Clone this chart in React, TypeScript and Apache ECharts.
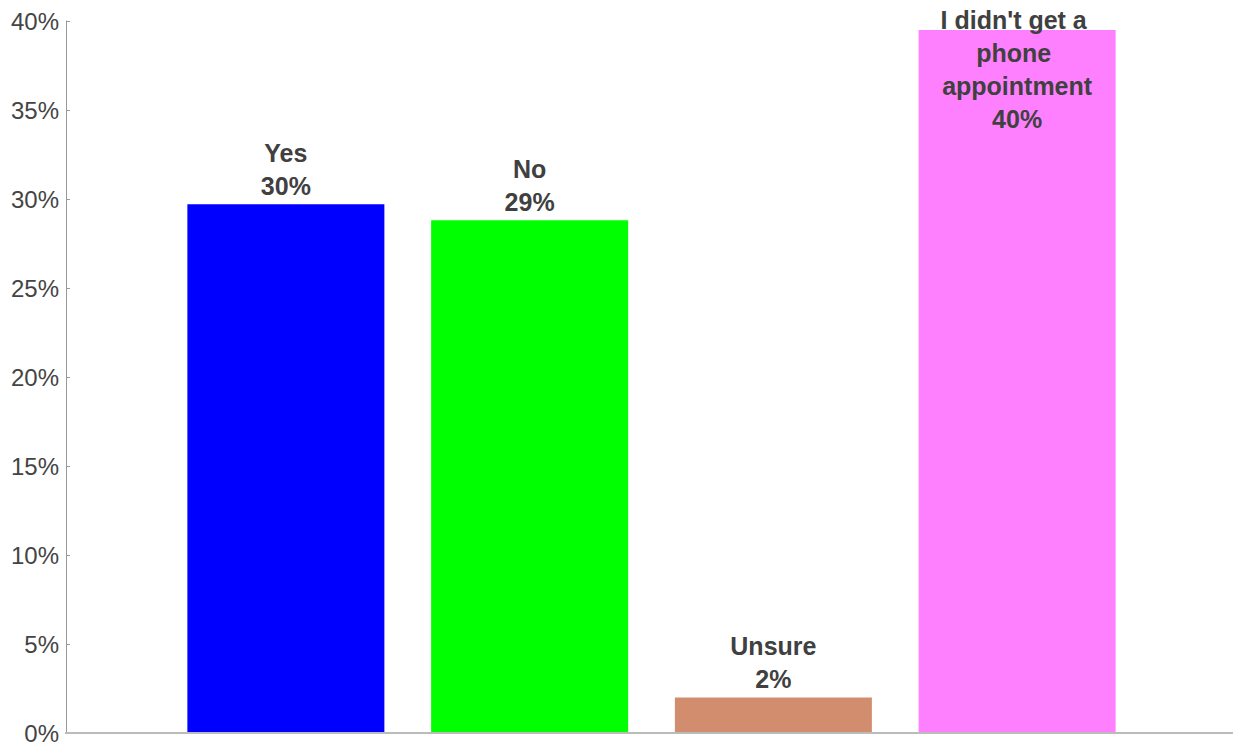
import React, { useEffect, useRef } from "react";
import * as echarts from "echarts";

const categories = ["Yes", "No", "Unsure", "I didn't get a phone appointment"];
const values = [29.7, 28.8, 2.0, 39.5];
const colors = ["#0000ff", "#00ff00", "#d18d6e", "#ff80ff"];
const yTicks = [0, 5, 10, 15, 20, 25, 30, 35, 40];

export default function App() {
  const ref = useRef<HTMLDivElement>(null);
  useEffect(() => {
    document.body.style.margin = "0";
    const chart = echarts.init(ref.current!, null, { renderer: "svg" });
    const labelBase = {
      show: true,
      fontFamily: "Liberation Sans, Arial, sans-serif",
      fontWeight: "bold",
      fontSize: 25,
      lineHeight: 33,
      color: "#404040",
      width: 200,
      overflow: "break",
      formatter: (p: any) => `${p.name}\n${Math.round(p.value)}%`,
    };
    chart.setOption({
      animation: false,
      grid: { left: 164, right: 94, top: 21, bottom: 14 },
      xAxis: {
        type: "category",
        data: categories,
        axisLine: { show: false },
        axisTick: { show: false },
        axisLabel: { show: false },
      },
      yAxis: {
        type: "value",
        min: yTicks[0],
        max: yTicks[yTicks.length - 1],
        interval: 5,
        offset: 98,
        axisLine: { show: true, lineStyle: { color: "#999", width: 1 } },
        axisTick: { show: true, inside: true, length: 4, lineStyle: { color: "#999" } },
        splitLine: { show: false },
        axisLabel: {
          formatter: "{value}%",
          fontFamily: "Liberation Sans, Arial, sans-serif",
          fontSize: 24,
          color: "#444",
          margin: 7,
        },
      },
      graphic: [
        {
          type: "line",
          shape: { x1: 65, y1: 733, x2: 1233, y2: 733 },
          style: { stroke: "#bbb", lineWidth: 2 },
          z: 10,
        },
      ],
      series: [
        {
          type: "bar",
          barWidth: 197,
          data: values.map((v, i) => {
            const item: any = { value: v, itemStyle: { color: colors[i] } };
            if (i === 3) {
              item.label = { ...labelBase, position: "insideTop", distance: 0, offset: [0, -26] };
            }
            return item;
          }),
          label: { ...labelBase, position: "top", distance: 2 },
        },
      ],
    });
    return () => chart.dispose();
  }, []);
  return (
    <div
      ref={ref}
      style={{ position: "fixed", left: 0, top: 0, width: 1233, height: 747, background: "#fff" }}
    />
  );
}
